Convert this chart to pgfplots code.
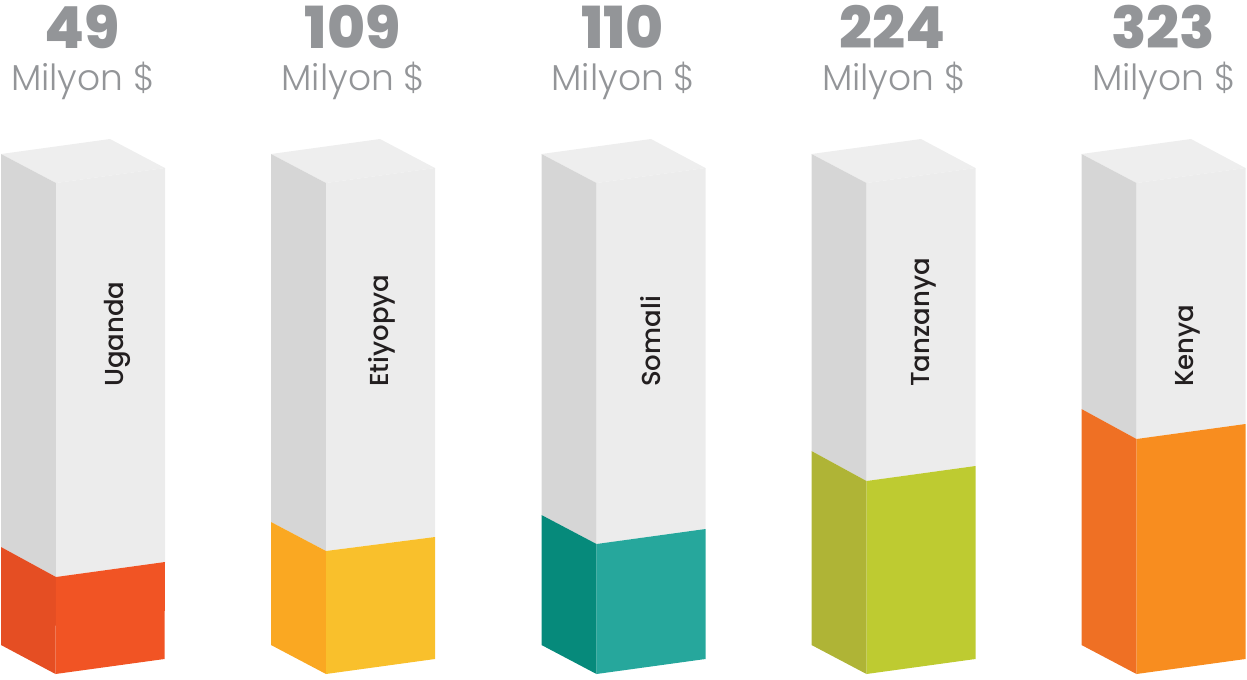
\documentclass[border=0pt]{standalone}
\usepackage{fontspec}
\usepackage{pgfplots}
\pgfplotsset{compat=1.18}
\setmainfont{Poppins}
\newfontfamily\lightf{Poppins Light}
\newfontfamily\heavyf{Poppins ExtraBold}
\newfontfamily\medf{Poppins Medium}
\definecolor{txt}{HTML}{939598}
\definecolor{lab}{HTML}{231F20}
\definecolor{gF}{HTML}{ECECEC}
\definecolor{gT}{HTML}{EEEEEE}
\definecolor{gL}{HTML}{D6D6D6}
\definecolor{aF}{HTML}{F15424}\definecolor{aL}{HTML}{E54E23}
\definecolor{bF}{HTML}{F9C02C}\definecolor{bL}{HTML}{FAA822}
\definecolor{cF}{HTML}{26A79C}\definecolor{cL}{HTML}{068A7B}
\definecolor{dF}{HTML}{BECB31}\definecolor{dL}{HTML}{AFB436}
\definecolor{eF}{HTML}{F88D1F}\definecolor{eL}{HTML}{EF7024}
\begin{document}
\begin{tikzpicture}
\begin{axis}[
  scale only axis, width=935.25pt, height=509.25pt,
  xmin=0, xmax=1247, ymin=0, ymax=679, y dir=reverse,
  hide axis, clip=false,
  every axis plot/.append style={draw=none, forget plot}]
\path (axis cs:0,0) (axis cs:1247,679);
% Uganda
\addplot[fill=gT] coordinates {(1,154)(110,139)(165,168)(56,183)} -- cycle;
\addplot[fill=gL] coordinates {(1,154)(56,183)(56,577)(1,547)} -- cycle;
\addplot[fill=gF] coordinates {(56,183)(165,168)(165,562)(56,577)} -- cycle;
\addplot[fill=aL] coordinates {(1,547)(56,577)(55.5,674)(1,645)} -- cycle;
\addplot[fill=aF] coordinates {(56,577)(165,562)(164.5,659)(55.5,674)} -- cycle;
% Etiyopya
\addplot[fill=gT] coordinates {(271,154)(380,139)(435,168)(326,183)} -- cycle;
\addplot[fill=gL] coordinates {(271,154)(326,183)(326,551)(271,522)} -- cycle;
\addplot[fill=gF] coordinates {(326,183)(435,168)(435,537)(326,551)} -- cycle;
\addplot[fill=bL] coordinates {(271,522)(326,551)(326,674)(271,645)} -- cycle;
\addplot[fill=bF] coordinates {(326,551)(435,537)(435,659)(326,674)} -- cycle;
% Somali
\addplot[fill=gT] coordinates {(541.5,154)(651,139)(705.5,168)(596.5,183)} -- cycle;
\addplot[fill=gL] coordinates {(541.5,154)(596.5,183)(596.5,544)(541.5,515)} -- cycle;
\addplot[fill=gF] coordinates {(596.5,183)(705.5,168)(705.5,529)(596.5,544)} -- cycle;
\addplot[fill=cL] coordinates {(541.5,515)(596.5,544)(596.5,674)(541.5,645)} -- cycle;
\addplot[fill=cF] coordinates {(596.5,544)(705.5,529)(705.5,659)(596.5,674)} -- cycle;
% Tanzanya
\addplot[fill=gT] coordinates {(811.5,154)(921,139)(975.5,168)(866.5,183)} -- cycle;
\addplot[fill=gL] coordinates {(811.5,154)(866.5,183)(866.5,481)(811.5,451)} -- cycle;
\addplot[fill=gF] coordinates {(866.5,183)(975.5,168)(975.5,466)(866.5,481)} -- cycle;
\addplot[fill=dL] coordinates {(811.5,451)(866.5,481)(866.5,674)(811.5,645)} -- cycle;
\addplot[fill=dF] coordinates {(866.5,481)(975.5,466)(975.5,659)(866.5,674)} -- cycle;
% Kenya
\addplot[fill=gT] coordinates {(1081.5,154)(1191,139)(1245.5,168)(1136.5,183)} -- cycle;
\addplot[fill=gL] coordinates {(1081.5,154)(1136.5,183)(1136.5,439)(1081.5,409)} -- cycle;
\addplot[fill=gF] coordinates {(1136.5,183)(1245.5,168)(1245.5,424)(1136.5,439)} -- cycle;
\addplot[fill=eL] coordinates {(1081.5,409)(1136.5,439)(1136.5,674)(1081.5,645)} -- cycle;
\addplot[fill=eF] coordinates {(1136.5,439)(1245.5,424)(1245.5,659)(1136.5,674)} -- cycle;
% values
\foreach \x/\v in {82/49,352.5/109,622.5/110,893/224,1163/323}{
  \edef\tmp{\noexpand\node[anchor=base,text=txt,inner sep=0pt,font=\noexpand\heavyf\noexpand\fontsize{43.5}{43.5}\noexpand\selectfont] at (axis cs:\x,48) {\v};
  \noexpand\node[anchor=base,text=txt,inner sep=0pt,font=\noexpand\lightf\noexpand\fontsize{27}{27}\noexpand\selectfont] at (axis cs:\x+1,90) {Milyon \noexpand\$};}
  \tmp
}
\foreach \x/\n in {123/Uganda,388.5/Etiyopya,660/Somali,929/Tanzanya,1193/Kenya}{
  \edef\tmp{\noexpand\node[anchor=base west,rotate=90,text=lab,inner sep=0pt,font=\noexpand\medf\noexpand\fontsize{19.5}{19.5}\noexpand\selectfont] at (axis cs:\x,387) {\n};}
  \tmp
}
\end{axis}
\end{tikzpicture}
\end{document}
